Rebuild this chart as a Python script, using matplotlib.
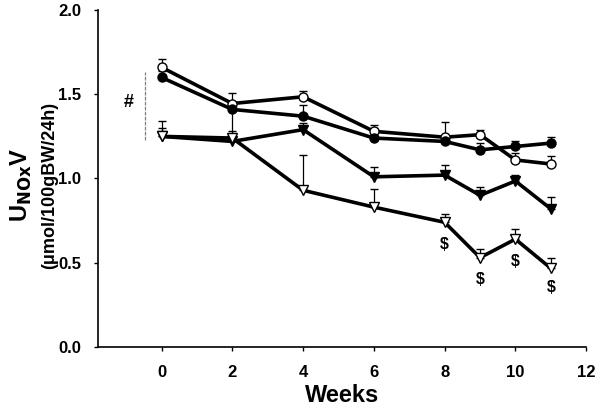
import matplotlib
matplotlib.use("Agg")
import matplotlib.pyplot as plt

plt.rcParams['font.family'] = ['Liberation Sans', 'DejaVu Sans']
plt.rcParams['font.weight'] = 'bold'

weeks = [0, 2, 4, 6, 8, 9, 10, 11]
open_circle = [1.66, 1.445, 1.485, 1.28, 1.245, 1.26, 1.11, 1.086]
open_circle_err = [0.05, 0.06, 0.035, 0.04, 0.09, 0.03, 0.04, 0.045]
filled_circle = [1.60, 1.41, 1.37, 1.24, 1.22, 1.17, 1.19, 1.21]
filled_circle_err = [0.04, 0.03, 0.065, 0.02, 0.03, 0.04, 0.035, 0.035]
filled_tri = [1.25, 1.22, 1.29, 1.01, 1.02, 0.90, 0.985, 0.82]
filled_tri_err = [0.05, 0.06, 0.04, 0.06, 0.06, 0.05, 0.035, 0.07]
open_tri = [1.25, 1.24, 0.93, 0.83, 0.74, 0.53, 0.64, 0.467]
open_tri_err = [0.09, 0.17, 0.21, 0.11, 0.05, 0.05, 0.06, 0.06]

dollar_x = [8, 9, 10, 11]
dollar_y = [0.61, 0.40, 0.51, 0.35]

fig = plt.figure(figsize=(6, 4.18), dpi=100)
ax = fig.add_axes([0.163, 0.170, 0.814, 0.806])

series = [
    (open_circle, open_circle_err, 'o', 'white'),
    (filled_circle, filled_circle_err, 'o', 'black'),
    (filled_tri, filled_tri_err, 'v', 'black'),
    (open_tri, open_tri_err, 'v', 'white'),
]
for vals, errs, m, fc in series:
    ax.errorbar(weeks, vals, yerr=[[0]*len(errs), errs], fmt='-', color='black',
                lw=2.6, marker=m, ms=6.5, mfc=fc, mec='black', mew=1.0,
                ecolor='black', elinewidth=0.9, capsize=3, capthick=0.9)

ax.plot([-0.48, -0.48], [1.23, 1.63], color='gray', lw=0.9, ls=(0, (3, 1)))
ax.text(-0.93, 1.45, '#', ha='center', va='center', fontsize=13, fontweight='bold')
for dx, dy in zip(dollar_x, dollar_y):
    ax.text(dx, dy, '$', ha='center', va='center', fontsize=11.5, fontweight='bold')

ax.set_xlim(-1.8, 12)
ax.set_ylim(0, 2.0)
ax.set_xticks([0, 2, 4, 6, 8, 10, 12])
ax.set_yticks([0.0, 0.5, 1.0, 1.5, 2.0])
ax.set_yticklabels(['0.0', '0.5', '1.0', '1.5', '2.0'])
ax.spines['top'].set_visible(False)
ax.spines['right'].set_visible(False)
ax.spines['left'].set_linewidth(1.2)
ax.spines['bottom'].set_linewidth(1.2)
ax.tick_params(axis='x', direction='out', length=3, width=1, labelsize=12, pad=10)
ax.tick_params(axis='y', direction='out', length=3, width=1, labelsize=12, pad=9)
for lab in ax.get_xticklabels() + ax.get_yticklabels():
    lab.set_fontweight('bold')

ax.set_xlabel('Weeks', fontsize=17, fontweight='bold', labelpad=3)
fig.text(0.035, 0.557, r'U$_{\mathbf{NOx}}$V', rotation=90, ha='center', va='center',
         fontsize=17, fontweight='bold')
fig.text(0.082, 0.557, '(\u03bcmol/100gBW/24h)', rotation=90, ha='center', va='center',
         fontsize=13, fontweight='bold')

fig.savefig('out.png', dpi=100)
